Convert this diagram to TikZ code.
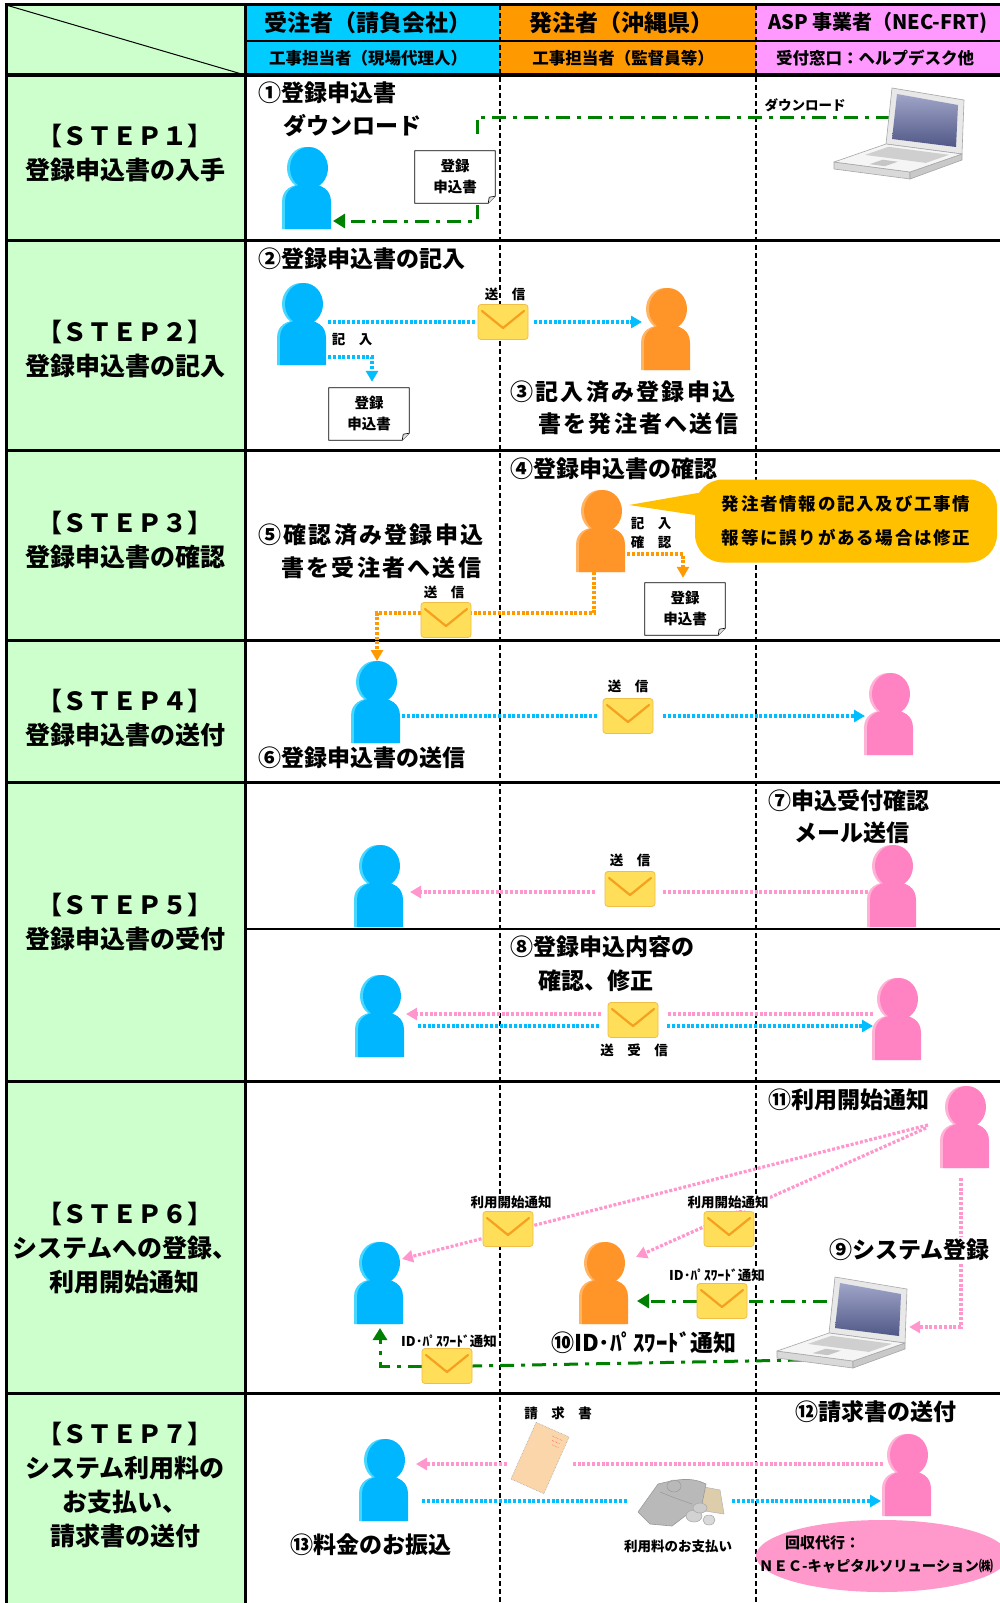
\documentclass[tikz,border=0pt]{standalone}
\usepackage{fontspec}
\setmainfont{Noto Sans CJK JP}
\usetikzlibrary{arrows.meta,calc,shapes.geometric}

\definecolor{hdrblue}{RGB}{0,204,255}
\definecolor{hdrorange}{RGB}{255,153,0}
\definecolor{hdrpink}{RGB}{255,153,255}
\definecolor{stepgreen}{RGB}{204,255,204}
\definecolor{bluemain}{RGB}{0,182,255}
\definecolor{bluelight}{RGB}{70,215,255}
\definecolor{orangemain}{RGB}{255,148,40}
\definecolor{orangelight}{RGB}{255,180,100}
\definecolor{pinkmain}{RGB}{255,130,195}
\definecolor{pinklight}{RGB}{255,178,214}
\definecolor{flowblue}{RGB}{0,190,255}
\definecolor{flowpink}{RGB}{255,150,205}
\definecolor{floworange}{RGB}{255,153,0}
\definecolor{flowgreen}{RGB}{0,128,0}
\definecolor{envfill}{RGB}{255,222,90}
\definecolor{envedge}{RGB}{240,190,70}
\definecolor{envflap}{RGB}{245,160,30}
\definecolor{bubblefill}{RGB}{255,192,0}
\definecolor{ellpink}{RGB}{255,153,204}
\definecolor{invoicefill}{RGB}{250,214,170}
\definecolor{screenlo}{RGB}{80,88,135}
\definecolor{screenhi}{RGB}{160,165,200}
\definecolor{billtan}{RGB}{222,205,170}

\newcommand\jfs[1]{\fontsize{#1}{#1}\selectfont\bfseries}

\pgfdeclarelayer{back}
\pgfdeclarelayer{lines}
\pgfsetlayers{back,lines,main}

\tikzset{
  hdr/.style={font=\jfs{23},inner sep=0pt},
  subhdr/.style={font=\jfs{16.5},inner sep=0pt},
  steptext/.style={font=\fontsize{25}{34}\selectfont\bfseries,align=center,inner sep=0pt},
  lbl/.style={font=\jfs{23},inner sep=0pt,anchor=west},
  lblsp/.style={lbl,font=\jfs{23}\addfontfeature{LetterSpace=10}},
  small/.style={font=\jfs{13.5},inner sep=0pt},
  colsep/.style={line width=1.3pt,dash pattern=on 5pt off 3pt},
  rowline/.style={line width=3pt},
  personbox/.style={minimum width=50pt,minimum height=82pt,inner sep=0pt,outer sep=0pt},
  envbox/.style={minimum width=50pt,minimum height=35pt,inner sep=0pt,rounded corners=3pt,fill=envfill,draw=envedge,line width=0.8pt},
  docbox/.style={minimum width=80pt,minimum height=52pt,inner sep=0pt,align=center,font=\fontsize{14.5}{21}\selectfont\bfseries},
  flowline/.style={line width=3.2pt,dash pattern=on 3pt off 1.8pt},
  bline/.style={flowline,draw=flowblue},
  pline/.style={flowline,draw=flowpink},
  oline/.style={flowline,draw=floworange},
  gline/.style={line width=3pt,draw=flowgreen,dash pattern=on 14pt off 7pt on 4pt off 7pt},
  btip/.style={-{Triangle[length=11pt,width=12pt]}},
  gtip/.style={-{Triangle[length=12pt,width=14pt]}},
  bubblebox/.style={fill=bubblefill,rounded corners=28pt,minimum width=302pt,minimum height=83pt,align=center,inner sep=0pt,
    font=\fontsize{17.5}{34}\selectfont\bfseries\addfontfeature{LetterSpace=10}},
}

% silhouette of a person: lighter copy behind, main colour in front
\newcommand\placeperson[3]{%
  \node[personbox] (#1) at (#2) {};
  \begin{scope}[shift={(#1.center)}]
    \begin{scope}[xshift=-3pt]
      \fill[#3light] (-23,41) -- (-23,14) .. controls (-23,1) and (-13,-4) .. (0,-4) .. controls (13,-4) and (23,1) .. (23,14) -- (23,41) -- cycle;
      \fill[#3light] (1,-20) ellipse [x radius=19, y radius=21];
    \end{scope}
    \fill[#3main] (-23,41) -- (-23,14) .. controls (-23,1) and (-13,-4) .. (0,-4) .. controls (13,-4) and (23,1) .. (23,14) -- (23,41) -- cycle;
    \fill[#3main] (1,-20) ellipse [x radius=19, y radius=21];
  \end{scope}}

% mail envelope
\newcommand\placeenv[2]{%
  \node[envbox] (#1) at (#2) {};
  \draw[envflap,line width=2.2pt,line join=round,line cap=round]
    ($(#1.center)+(-21,-11)$) -- ($(#1.center)+(0,6)$) -- ($(#1.center)+(21,-11)$);}

% application form sheet with a folded corner
\newcommand\placedoc[2]{%
  \node[docbox] (#1) at (#2) {登録\\申込書};
  \begin{pgfonlayer}{lines}
    \filldraw[fill=white,draw=black,line width=0.8pt] (#1.north west) -- (#1.north east)
      -- ($(#1.south east)+(0,-7)$) -- ($(#1.south east)+(-7,0)$) -- (#1.south west) -- cycle;
    \filldraw[fill=gray!25,draw=black,line width=0.6pt] ($(#1.south east)+(0,-7)$)
      -- ($(#1.south east)+(-6,-6)$) -- ($(#1.south east)+(-7,0)$);
  \end{pgfonlayer}}

% notebook computer
\newcommand\placelaptop[2]{%
  \node[minimum width=130pt,minimum height=96pt,inner sep=0pt] (#1) at (#2) {};
  \begin{scope}[shift={(#1.center)},line join=round,line width=0.6pt]
    \filldraw[draw=gray!70,fill=gray!18] (-12,6) -- (-6,-50) -- (66,-38) -- (64,16) -- cycle;
    \shade[top color=screenhi,bottom color=screenlo] (-6,1) -- (-1,-44) -- (60,-33) -- (58,9) -- cycle;
    \filldraw[draw=gray!70,fill=gray!30] (-64,24) -- (12,34) -- (12,41) -- (-64,31) -- cycle;
    \filldraw[draw=gray!70,fill=gray!42] (12,34) -- (64,16) -- (64,22) -- (12,41) -- cycle;
    \filldraw[draw=gray!70,fill=gray!8] (-12,6) -- (64,16) -- (12,34) -- (-64,24) -- cycle;
    \fill[gray!38] (-9.6,8.8) -- (51.2,16.8) -- (27.8,24.9) -- (-33,16.9) -- cycle;
    \fill[gray!45] (-15.4,21.7) -- (-0.2,23.7) -- (-13.2,28.2) -- (-28.4,26.2) -- cycle;
  \end{scope}}

\begin{document}
\begin{tikzpicture}[x=1pt,y=-1pt]
\useasboundingbox (0,0) rectangle (1000,1603);
\clip (0,0) rectangle (1000,1603);

% ---------- table ----------
\begin{pgfonlayer}{back}
  \fill[white] (0,0) rectangle (1000,1603);
  \fill[stepgreen] (6,5) rectangle (245,1603);
  \fill[hdrblue] (245,5) rectangle (500,75);
  \fill[hdrorange] (500,5) rectangle (756,75);
  \fill[hdrpink] (756,5) rectangle (1000,75);
  \draw[line width=1pt] (6,5) -- (245,75);
  \draw[line width=1.2pt] (245,41) -- (1000,41);
  \draw[colsep] (500,5) -- (500,1603);
  \draw[colsep] (756,5) -- (756,1603);
  \draw[line width=2pt] (245,929) -- (1000,929);
  \foreach \yy in {75,240,450,640,782,1081,1393} \draw[rowline] (6,\yy) -- (1000,\yy);
  \draw[rowline] (4.5,5) -- (1000,5);
  \draw[rowline] (6,3.5) -- (6,1603);
  \draw[rowline] (245,3.5) -- (245,1603);
\end{pgfonlayer}

% ---------- header ----------
\node[hdr] (h1) at (368,23) {受注者（請負会社）};
\node[hdr] (h2) at (621,23) {発注者（沖縄県）};
\node[hdr,font=\jfs{20},anchor=west] (h3) at (768,23) {ASP 事業者（NEC-FRT)};
\node[subhdr] (h4) at (368,58) {工事担当者（現場代理人）};
\node[subhdr] (h5) at (623,58) {工事担当者（監督員等）};
\node[subhdr,anchor=west] (h6) at (776,58) {受付窓口：ヘルプデスク他};

% ---------- step titles ----------
\node[steptext] (s1) at (125,153) {【ＳＴＥＰ１】\\登録申込書の入手};
\node[steptext] (s2) at (125,349) {【ＳＴＥＰ２】\\登録申込書の記入};
\node[steptext] (s3) at (125,540) {【ＳＴＥＰ３】\\登録申込書の確認};
\node[steptext] (s4) at (125,718) {【ＳＴＥＰ４】\\登録申込書の送付};
\node[steptext] (s5) at (125,922) {【ＳＴＥＰ５】\\登録申込書の受付};
\node[steptext] (s6) at (125,1248) {【ＳＴＥＰ６】\\システムへの登録、\\利用開始通知};
\node[steptext] (s7) at (125,1485) {【ＳＴＥＰ７】\\システム利用料の\\お支払い、\\請求書の送付};

% ---------- step 1 ----------
\node[lbl] (t1a) at (258,93) {①登録申込書};
\node[lbl] (t1b) at (283,126) {ダウンロード};
\node[small] (l1) at (805,105) {ダウンロード};
\placeperson{b1}{308,188}{blue}
\placedoc{d1}{455,177}
\placelaptop{lap1}{898,138}
\coordinate (g1) at (477,117);

% ---------- step 2 ----------
\node[lbl] (t2) at (258,259) {②登録申込書の記入};
\node[lblsp] (t3a) at (510,392) {③記入済み登録申込};
\node[lblsp] (t3b) at (538,424) {書を発注者へ送信};
\placeperson{b2}{303,324}{blue}
\placeperson{o2}{667,329}{orange}
\placeenv{e2}{503,322}
\placedoc{d2}{369,414}
\node[small] (l2a) at (505,294) {送　信};
\node[small] (l2b) at (352,340) {記　入};

% ---------- step 3 ----------
\node[lbl] (t4) at (510,469) {④登録申込書の確認};
\node[lblsp] (t5a) at (258,535) {⑤確認済み登録申込};
\node[lblsp] (t5b) at (281,568) {書を受注者へ送信};
\placeperson{o3}{602,531}{orange}
\node[bubblebox] (bub) at (846,521) {発注者情報の記入及び工事情\\報等に誤りがある場合は修正};
\fill[bubblefill] ($(bub.west)+(20,-31)$) -- ($(o3.center)+(27,-26)$) -- ($(bub.west)+(20,-3)$) -- cycle;
\placedoc{d3}{685,609}
\placeenv{e3}{446,620}
\node[small] (l3a) at (651,524) {記　入};
\node[small] (l3b) at (651,542) {確　認};
\node[small] (l3c) at (444,592) {送　信};

% ---------- step 4 ----------
\node[lbl] (t6) at (258,758) {⑥登録申込書の送信};
\placeperson{b4}{377,702}{blue}
\placeperson{k4}{890,714}{pink}
\placeenv{e4}{628,716}
\node[small] (l4) at (628,686) {送　信};

% ---------- step 5 ----------
\node[lbl] (t7a) at (768,801) {⑦申込受付確認};
\node[lbl] (t7b) at (794,833) {メール送信};
\placeperson{b5a}{380,886}{blue}
\placeperson{k5a}{893,886}{pink}
\placeenv{e5a}{630,889}
\node[small] (l5a) at (630,860) {送　信};

\node[lbl] (t8a) at (510,947) {⑧登録申込内容の};
\node[lbl] (t8b) at (538,981) {確認、修正};
\placeperson{b5b}{381,1016}{blue}
\placeperson{k5b}{898,1019}{pink}
\placeenv{e5b}{633,1020}
\node[small] (l5b) at (634,1050) {送　受　信};

% ---------- step 6 ----------
\node[lbl] (t11) at (768,1100) {⑪利用開始通知};
\node[lbl,fill=white,inner sep=2pt] (t9) at (827,1250) {⑨システム登録};
\node[font=\jfs{23},inner sep=0pt] (t10) at (644,1343) {⑩ID･ﾊﾟｽﾜｰﾄﾞ通知};
\placeperson{k6}{966,1127}{pink}
\placeperson{b6}{380,1283}{blue}
\placeperson{o6}{605,1283}{orange}
\placelaptop{lap6}{841,1327}
\placeenv{e6a}{508,1229}
\placeenv{e6b}{729,1229}
\placeenv{e6c}{722,1301}
\placeenv{e6d}{447,1366}
\node[small,fill=white,inner sep=1.5pt] (l6a) at (511,1202) {利用開始通知};
\node[small,fill=white,inner sep=1.5pt] (l6b) at (728,1202) {利用開始通知};
\node[small,fill=white,inner sep=1pt] (l6c) at (717,1275) {ID･ﾊﾟｽﾜｰﾄﾞ通知};
\node[small,fill=white,inner sep=1pt] (l6d) at (449,1341) {ID･ﾊﾟｽﾜｰﾄﾞ通知};

% ---------- step 7 ----------
\node[lbl] (t12) at (795,1412) {⑫請求書の送付};
\node[lbl] (t13) at (290,1545) {⑬料金のお振込};
\placeperson{b7}{385,1480}{blue}
\placeperson{k7}{908,1475}{pink}
\node[small] (l7a) at (558,1413) {請　求　書};
\node[small] (l7b) at (678,1546) {利用料のお支払い};

% invoice slip
\node[fill=white,minimum width=66pt,minimum height=72pt,inner sep=0pt] (inv) at (540,1458) {};
\begin{scope}[shift={(inv.center)},rotate=-24]
  \filldraw[fill=invoicefill,draw=gray!70,densely dotted,line width=0.6pt] (-18,-31) rectangle (18,31);
  \draw[red!70,line width=0.5pt,densely dotted] (2,-25) -- (13,-25) (4,-21) -- (13,-21) (6,-17) -- (13,-17);
\end{scope}

% bank notes and coins
\node[fill=white,minimum width=104pt,minimum height=52pt,inner sep=0pt] (money) at (680,1502) {};
\begin{scope}[shift={(money.center)},line join=round]
  \filldraw[fill=billtan,draw=gray!60,line width=0.5pt] (-2,-20) -- (40,-12) -- (44,12) -- (6,6) -- cycle;
  \filldraw[fill=gray!55,draw=gray!80,line width=0.6pt] (-42,10) -- (-22,-18) .. controls (-5,-22) and (10,-26) .. (26,-18)
     -- (22,2) .. controls (10,10) and (0,18) .. (-8,24) -- (-30,22) -- cycle;
  \draw[gray!80,line width=0.5pt] (-20,-10) .. controls (-5,-4) .. (12,2) (-6,-16) ellipse [x radius=7, y radius=6];
  \filldraw[fill=gray!35,draw=gray!70,line width=0.5pt] (14,14) ellipse [x radius=8, y radius=6];
  \filldraw[fill=gray!30,draw=gray!70,line width=0.5pt] (29,18) ellipse [x radius=6, y radius=5];
  \filldraw[fill=gray!40,draw=gray!70,line width=0.5pt] (20,6) ellipse [x radius=7, y radius=5];
\end{scope}

% collection agent
\node[ellipse,fill=ellpink,minimum width=252pt,minimum height=72pt] (agent) at (882,1556) {};
\node[font=\jfs{15},inner sep=0pt,anchor=west] (a1) at (785,1543) {回収代行：};
\node[font=\jfs{14.3},inner sep=0pt,anchor=west] (a2) at (759,1566) {ＮＥＣ-キャピタルソリューション㈱};

% ---------- connectors ----------
\begin{pgfonlayer}{lines}
  % step 1
  \draw[gline] ($(lap1.center)+(-8,-21)$) -- (g1) -- ($(g1 |- d1.north)+(0,-10)$);
  \draw[gline,gtip] ($(g1 |- d1.south)+(0,2)$) -- (g1 |- 0,221) -- (b1.east |- 0,221);
  % step 2
  \draw[bline] (b2.east |- e2) -- ($(e2.west)+(-3,0)$);
  \draw[bline,btip] ($(e2.east)+(6,0)$) -- (o2.west |- e2);
  \draw[bline,btip,shorten >=6pt] (b2.east |- 0,357) -| ($(d2.north)+(3,0)$);
  % step 3
  \draw[oline,btip,shorten >=5pt] (o3.east |- 0,554) -| ($(d3.north)+(-2,0)$);
  \draw[oline] ($(o3.south)+(-8,0)$) |- ($(e3.east)+(0,-7)$);
  \draw[oline,btip] ($(e3.west)+(0,-7)$) -| (b4.north);
  % step 4
  \draw[bline] (b4.east |- e4) -- ($(e4.west)+(-4,0)$);
  \draw[bline,btip] ($(e4.east)+(10,0)$) -- (k4.west |- e4);
  % step 5
  \draw[pline] (k5a.west |- 0,892) -- ($(e5a.east |- 0,892)+(8,0)$);
  \draw[pline,btip,shorten >=5pt] ($(e5a.west |- 0,892)+(-10,0)$) -- (b5a.east |- 0,892);
  \draw[pline] (k5b.west |- 0,1014) -- ($(e5b.east |- 0,1014)+(9,0)$);
  \draw[pline,btip] ($(e5b.west |- 0,1014)+(-7,0)$) -- (b5b.east |- 0,1014);
  \draw[bline] ($(b5b.east |- 0,1026)+(12,0)$) -- ($(e5b.west |- 0,1026)+(-9,0)$);
  \draw[bline,btip] ($(e5b.east |- 0,1026)+(9,0)$) -- (k5b.west |- 0,1026);
  % step 6
  \draw[pline,btip] ($(k6.west)+(-13,-2)$) -- ($(b6.center)+(22,-24)$);
  \draw[pline,btip] ($(k6.west)+(-15,1)$) -- ($(o6.center)+(31,-26)$);
  \draw[pline,btip,shorten <=10pt,shorten >=3pt] ($(k6.south)+(-5,0)$) |- (lap6.east);
  \draw[gline] ($(lap6.center)+(-14,-26)$) -- (e6c.east);
  \draw[gline,gtip,shorten >=7pt] (e6c.west) -- (o6.east |- e6c);
  \draw[gline] ($(lap6.center)+(-39,33)$) -- (e6d.east);
  \draw[gline,gtip,shorten >=4pt] (e6d.west) -| (b6.south);
  % step 7
  \draw[pline] (k7.west |- 0,1464) -- (inv.east |- 0,1464);
  \draw[pline,btip,shorten >=6pt] (inv.west |- 0,1464) -- (b7.east |- 0,1464);
  \draw[bline] ($(b7.east |- 0,1501)+(12,0)$) -- (money.west |- 0,1501);
  \draw[bline,btip,shorten >=2pt] (money.east |- 0,1501) -- (k7.west |- 0,1501);
\end{pgfonlayer}
\end{tikzpicture}
\end{document}
